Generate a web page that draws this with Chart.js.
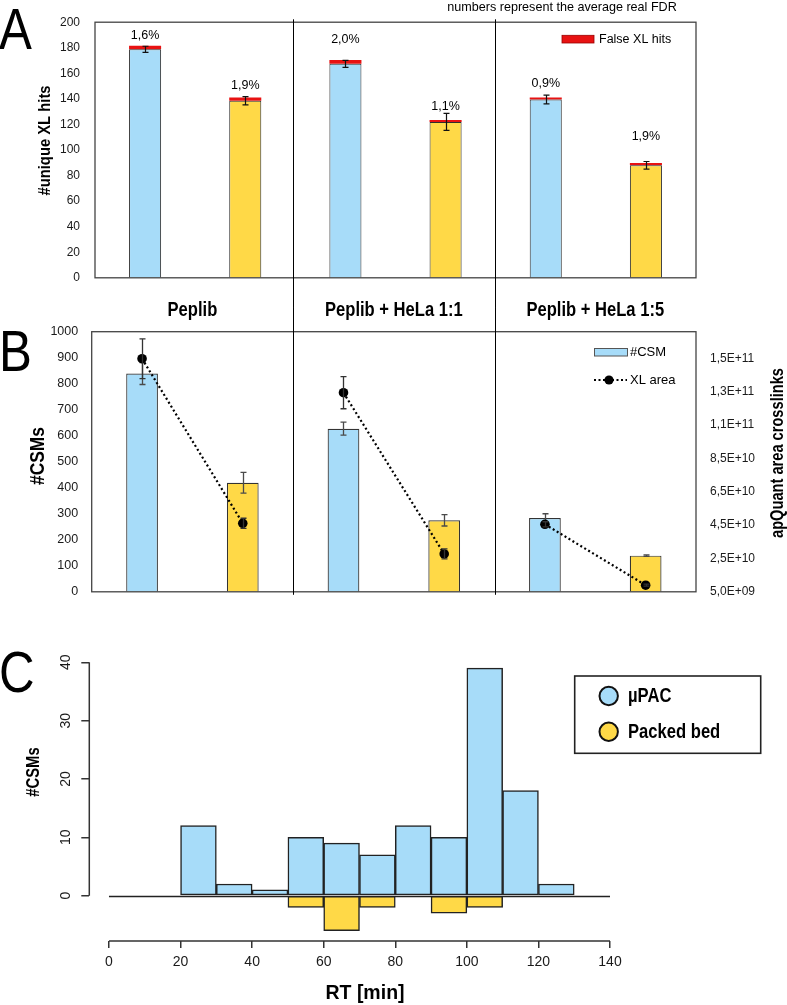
<!DOCTYPE html>
<html>
<head>
<meta charset="utf-8">
<title>XL hits, CSMs and RT distribution</title>
<script src="https://cdn.jsdelivr.net/npm/chart.js@4.4.1/dist/chart.umd.min.js"></script>
<style>
  html, body { margin: 0; padding: 0; background: #ffffff; }
  #page { position: relative; width: 787px; height: 1005px; overflow: hidden; background: #ffffff; }
  .panel { position: absolute; left: 0; width: 787px; }
  .letter { position: absolute; left: -1px; font-family: 'Liberation Sans', Arial, sans-serif; font-size: 58px; line-height: 58px; color: #000; transform: scaleX(0.85); transform-origin: 0 0; }
</style>
</head>
<body>
<div id="page">
  <div class="panel" style="top:0;height:300px"><canvas id="chartA"></canvas></div>
  <div class="panel" style="top:0;height:613px"><canvas id="chartB"></canvas></div>
  <div class="panel" style="top:615px;height:390px"><canvas id="chartC"></canvas></div>
  <div class="letter" style="top:0px">A</div>
  <div class="letter" style="top:322px">B</div>
  <div class="letter" style="top:643px">C</div>
</div>
<script>
// ---------------- data ----------------
const groupLabels = ['Peplib', 'Peplib + HeLa 1:1', 'Peplib + HeLa 1:5'];
const categories = ['Peplib µPAC', 'Peplib Packed bed',
                    'Peplib + HeLa 1:1 µPAC', 'Peplib + HeLa 1:1 Packed bed',
                    'Peplib + HeLa 1:5 µPAC', 'Peplib + HeLa 1:5 Packed bed'];

// Panel A
const trueXLHits  = [178.8, 138.5, 167.4, 122.0, 139.5, 88.0];
const falseXLHits = [2.7, 2.5, 3.0, 1.5, 1.5, 1.8];
const xlHitsError = [2.4, 3.2, 2.8, 6.7, 3.4, 3.0];
const realFDR     = ['1,6%', '1,9%', '2,0%', '1,1%', '0,9%', '1,9%'];
const hitsTicks   = [0, 20, 40, 60, 80, 100, 120, 140, 160, 180, 200];

// Panel B
const csmCounts   = [839, 419, 627, 275, 284, 139];
const csmError    = [42, 40, 25, 22, 16, 3];
const xlArea      = [1.448e11, 4.61e10, 1.244e11, 2.77e10, 4.55e10, 8.97e9];
const xlAreaError = [1.19e10, 3.0e9, 9.6e9, 3.0e9, 1.5e9, 6e8];
const csmTicks    = [0, 100, 200, 300, 400, 500, 600, 700, 800, 900, 1000];
const areaTicks      = [5e9, 2.5e10, 4.5e10, 6.5e10, 8.5e10, 1.05e11, 1.25e11, 1.45e11];
const areaTickLabels = ['5,0E+09', '2,5E+10', '4,5E+10', '6,5E+10', '8,5E+10', '1,1E+11', '1,3E+11', '1,5E+11'];

// Panel C
const rtBinStart  = [20, 30, 40, 50, 60, 70, 80, 90, 100, 110, 120];
const rtBinWidth  = 10;
const upacCSMs    = [12, 2, 1, 10, 9, 7, 12, 10, 39, 18, 2];
const packedCSMs  = [0, 0, 0, 2, 6, 2, 0, 3, 2, 0, 0];
const rtTicks     = [0, 20, 40, 60, 80, 100, 120, 140];
const histTicks   = [0, 10, 20, 30, 40];

// ---------------- style ----------------
const SANS = "'Liberation Sans', Arial, sans-serif";
const BLUE = '#A7DCF9', YELLOW = '#FFD947', RED = '#E81212', INK = '#1a1a1a';
const barColors = categories.map((_, i) => (i % 2 ? YELLOW : BLUE));

Chart.defaults.font.family = SANS;
Chart.defaults.color = INK;

function drawText(ctx, str, x, y, font, o = {}) {
  ctx.save();
  ctx.font = font;
  ctx.fillStyle = o.color || '#000';
  ctx.textAlign = o.align || 'center';
  ctx.textBaseline = o.baseline || 'middle';
  ctx.translate(x, y);
  if (o.rotate) ctx.rotate(o.rotate);
  if (o.sx) ctx.scale(o.sx, 1);
  ctx.fillText(str, 0, 0);
  ctx.restore();
}

const errorBars = {
  id: 'errorBars',
  afterDatasetDraw(chart, args) {
    const ds = chart.data.datasets[args.index];
    if (!ds.errors) return;
    const meta = args.meta;
    const yScale = chart.scales[meta.yAxisID];
    const ctx = chart.ctx;
    ctx.save();
    ctx.strokeStyle = ds.errorColor || '#000';
    ctx.lineWidth = ds.errorWidth || 1.2;
    meta.data.forEach((el, i) => {
      const v = ds.data[i], e = ds.errors[i];
      if (v == null || e == null) return;
      const x = Math.round(el.x) + 0.5;
      const yHi = yScale.getPixelForValue(v + e), yLo = yScale.getPixelForValue(v - e);
      const c = ds.errorCap || 3;
      ctx.beginPath();
      ctx.moveTo(x, yHi); ctx.lineTo(x, yLo);
      ctx.moveTo(x - c, yHi); ctx.lineTo(x + c, yHi);
      ctx.moveTo(x - c, yLo); ctx.lineTo(x + c, yLo);
      ctx.stroke();
    });
    ctx.restore();
  }
};

function drawFrame(ctx, a) {
  ctx.save();
  ctx.strokeStyle = '#444';
  ctx.lineWidth = 1.3;
  ctx.strokeRect(a.left, a.top, a.right - a.left, a.bottom - a.top);
  ctx.restore();
}

// ---------------- Panel A ----------------
const panelA = {
  id: 'panelA',
  afterDatasetsDraw(chart) {
    const ctx = chart.ctx;
    const tops = chart.getDatasetMeta(1).data;
    const lift = [10, 12.5, 20, 13, 14, 26];
    realFDR.forEach((t, i) => drawText(ctx, t, tops[i].x, tops[i].y - lift[i], `12.5px ${SANS}`));
  },
  afterDraw(chart) {
    const {ctx, chartArea: a} = chart;
    drawFrame(ctx, a);
    ctx.save();
    ctx.fillStyle = RED; ctx.fillRect(562, 35.3, 32, 7.7);
    ctx.strokeStyle = '#9a0000'; ctx.lineWidth = 0.8; ctx.strokeRect(562, 35.3, 32, 7.7);
    ctx.restore();
    drawText(ctx, chart.data.datasets[1].label, 599, 39.5, `12.5px ${SANS}`, {align: 'left'});
    drawText(ctx, 'numbers represent the average real FDR', 562, 11, `12.6px ${SANS}`, {baseline: 'alphabetic'});
    drawText(ctx, '#unique XL hits', 45, 140.5, `bold 17px ${SANS}`, {rotate: -Math.PI / 2, sx: 0.87});
  }
};

new Chart(document.getElementById('chartA'), {
  type: 'bar',
  data: {
    labels: categories,
    datasets: [
      { label: 'True XL hits', data: trueXLHits, errors: xlHitsError, errorColor: '#111', errorWidth: 1.2,
        backgroundColor: barColors, borderColor: '#2e2e2e', borderWidth: 1,
        barPercentage: 0.32, categoryPercentage: 1 },
      { label: 'False XL hits', data: falseXLHits, backgroundColor: RED, borderColor: '#b00000', borderWidth: 0,
        barPercentage: 0.32, categoryPercentage: 1 }
    ]
  },
  options: {
    responsive: true, maintainAspectRatio: false, animation: false, devicePixelRatio: 1, events: [],
    layout: { padding: { left: 0, right: 91, top: 19, bottom: 17 } },
    plugins: { legend: { display: false }, tooltip: { enabled: false } },
    scales: {
      x: { stacked: true, display: false },
      y: {
        stacked: true, min: 0, max: 200,
        afterBuildTicks: s => { s.ticks = hitsTicks.map(v => ({ value: v })); },
        afterFit: s => { s.width = 95; },
        grid: { display: false, drawTicks: false }, border: { display: false },
        ticks: { padding: 15, autoSkip: false, font: { size: 12 }, color: INK, callback: v => String(v) }
      }
    }
  },
  plugins: [errorBars, panelA]
});

// ---------------- Panel B (canvas spans from the page top so the dividers run through A) ----------------
const panelB = {
  id: 'panelB',
  afterDraw(chart) {
    const {ctx, chartArea: a, scales: {x}} = chart;
    drawFrame(ctx, a);
    ctx.save();
    ctx.strokeStyle = '#000'; ctx.lineWidth = 1;
    [1, 3].forEach(i => {
      const dx = Math.round((x.getPixelForValue(i) + x.getPixelForValue(i + 1)) / 2) + 0.5;
      ctx.beginPath(); ctx.moveTo(dx, 19.3); ctx.lineTo(dx, a.bottom + 3); ctx.stroke();
    });
    ctx.restore();
    groupLabels.forEach((g, i) => {
      const cx = (x.getPixelForValue(2 * i) + x.getPixelForValue(2 * i + 1)) / 2;
      drawText(ctx, g, cx, 315.7, `bold 19.5px ${SANS}`, {baseline: 'alphabetic', sx: 0.85});
    });
    // legend
    ctx.save();
    ctx.fillStyle = BLUE; ctx.fillRect(594, 348.3, 33, 7.7);
    ctx.strokeStyle = '#555'; ctx.lineWidth = 1; ctx.strokeRect(594.5, 348.5, 33, 7.5);
    ctx.strokeStyle = '#000'; ctx.lineWidth = 2; ctx.setLineDash([2, 2.5]);
    ctx.beginPath(); ctx.moveTo(594, 380); ctx.lineTo(627, 380); ctx.stroke();
    ctx.setLineDash([]);
    ctx.fillStyle = '#000'; ctx.beginPath(); ctx.arc(609, 380, 4.6, 0, Math.PI * 2); ctx.fill();
    ctx.restore();
    drawText(ctx, chart.data.datasets[0].label, 630, 352.5, `13px ${SANS}`, {align: 'left'});
    drawText(ctx, chart.data.datasets[1].label, 630, 380.5, `13px ${SANS}`, {align: 'left'});
    drawText(ctx, '#CSMs', 38, 456, `bold 20px ${SANS}`, {rotate: -Math.PI / 2, sx: 0.87});
    drawText(ctx, 'apQuant area crosslinks', 778, 453, `bold 17.5px ${SANS}`, {rotate: -Math.PI / 2, sx: 0.836});
  }
};

new Chart(document.getElementById('chartB'), {
  type: 'bar',
  data: {
    labels: categories,
    datasets: [
      { label: '#CSM', data: csmCounts, errors: csmError, errorColor: '#4a4a4a', errorWidth: 1.3,
        backgroundColor: barColors, borderColor: '#333', borderWidth: 1.2,
        barPercentage: 0.315, categoryPercentage: 1, yAxisID: 'y', order: 1 },
      { type: 'line', label: 'XL area', data: xlArea, errors: xlAreaError, errorColor: '#333', errorWidth: 1.3,
        yAxisID: 'y2', order: 0, borderColor: '#000', borderWidth: 2.2, borderDash: [2, 2.6],
        pointRadius: 4.8, pointBackgroundColor: '#000', pointBorderWidth: 0, fill: false, tension: 0,
        segment: { borderColor: c => (c.p0DataIndex % 2 === 1 ? 'rgba(0,0,0,0)' : '#000') } }
    ]
  },
  options: {
    responsive: true, maintainAspectRatio: false, animation: false, devicePixelRatio: 1, events: [],
    layout: { padding: { left: 0, right: 0, top: 331.7, bottom: 18 } },
    plugins: { legend: { display: false }, tooltip: { enabled: false } },
    scales: {
      x: { display: false },
      y: {
        position: 'left', min: 0, max: 1000,
        afterBuildTicks: s => { s.ticks = csmTicks.map(v => ({ value: v })); },
        afterFit: s => { s.width = 91.7; },
        grid: { display: false, drawTicks: false }, border: { display: false },
        ticks: { padding: 13.5, autoSkip: false, font: { size: 12.5 }, color: INK, callback: v => String(v) }
      },
      y2: {
        position: 'right', min: 5e9, max: 1.61e11,
        afterBuildTicks: s => { s.ticks = areaTicks.map(v => ({ value: v })); },
        afterFit: s => { s.width = 91; },
        grid: { display: false, drawTicks: false }, border: { display: false },
        ticks: { padding: 14, autoSkip: false, font: { size: 12 }, color: INK,
                 callback: (v, i) => areaTickLabels[i] }
      }
    }
  },
  plugins: [errorBars, panelB]
});

// ---------------- Panel C ----------------
const panelC = {
  id: 'panelC',
  beforeDatasetsDraw(chart) {
    const {ctx, scales: {x, y}} = chart;
    const y0 = Math.round(y.getPixelForValue(0)) + 0.5;
    ctx.save();
    ctx.strokeStyle = '#222'; ctx.lineWidth = 1.5;
    ctx.beginPath();
    ctx.moveTo(x.getPixelForValue(rtTicks[0]), y0);
    ctx.lineTo(x.getPixelForValue(rtTicks[rtTicks.length - 1]), y0);
    ctx.stroke();
    ctx.restore();
  },
  afterDraw(chart) {
    const {ctx, chartArea: a, scales: {x, y}} = chart;
    ctx.save();
    ctx.strokeStyle = '#333'; ctx.lineWidth = 1.5;
    ctx.beginPath();
    ctx.moveTo(x.getPixelForValue(rtTicks[0]), a.bottom);
    ctx.lineTo(x.getPixelForValue(rtTicks[rtTicks.length - 1]), a.bottom);
    ctx.moveTo(a.left, y.getPixelForValue(histTicks[0]));
    ctx.lineTo(a.left, y.getPixelForValue(histTicks[histTicks.length - 1]));
    ctx.stroke();
    // legend
    ctx.strokeStyle = '#222'; ctx.lineWidth = 1.6;
    ctx.strokeRect(574.7, 61, 186, 77.3);
    const rows = [81, 116.7];
    chart.data.datasets.forEach((ds, i) => {
      ctx.beginPath(); ctx.arc(608.7, rows[i], 9.2, 0, Math.PI * 2);
      ctx.fillStyle = ds.backgroundColor; ctx.fill();
      ctx.lineWidth = 2; ctx.strokeStyle = '#111'; ctx.stroke();
      drawText(ctx, ds.label, 628, rows[i] + 0.5, `bold 20px ${SANS}`, {align: 'left', sx: 0.83});
    });
    ctx.restore();
    drawText(ctx, '#CSMs', 34, 157, `bold 18.5px ${SANS}`, {rotate: -Math.PI / 2, sx: 0.8});
    drawText(ctx, 'RT [min]', 365, 384.3, `bold 19.5px ${SANS}`, {baseline: 'alphabetic'});
  }
};

new Chart(document.getElementById('chartC'), {
  type: 'bar',
  data: {
    datasets: [
      { label: 'µPAC',
        data: rtBinStart.map((s, i) => ({ x: s + rtBinWidth / 2, y: upacCSMs[i] ? upacCSMs[i] : null })),
        backgroundColor: BLUE, borderColor: '#222', borderWidth: 1.5, borderSkipped: false,
        grouped: false, barPercentage: 1, categoryPercentage: 1 },
      { label: 'Packed bed',
        data: rtBinStart.map((s, i) => ({ x: s + rtBinWidth / 2, y: packedCSMs[i] ? -packedCSMs[i] : null })),
        backgroundColor: YELLOW, borderColor: '#222', borderWidth: 1.5, borderSkipped: false,
        grouped: false, barPercentage: 1, categoryPercentage: 1 }
    ]
  },
  options: {
    responsive: true, maintainAspectRatio: false, animation: false, devicePixelRatio: 1, events: [],
    layout: { padding: { left: 0, right: 177, top: 47.3, bottom: 0 } },
    plugins: { legend: { display: false }, tooltip: { enabled: false } },
    scales: {
      x: {
        type: 'linear', min: -5.5, max: 140, offset: false,
        afterBuildTicks: s => { s.ticks = rtTicks.map(v => ({ value: v })); },
        afterFit: s => { s.height = 64; },
        grid: { offset: false, drawOnChartArea: false, drawTicks: true, tickLength: 7, color: '#333', lineWidth: 1.5 },
        border: { display: false },
        ticks: { padding: 6, autoSkip: false, maxRotation: 0, font: { size: 14 }, color: INK, callback: v => String(v) }
      },
      y: {
        min: -7.77, max: 40,
        afterBuildTicks: s => { s.ticks = histTicks.map(v => ({ value: v })); },
        afterFit: s => { s.width = 89.3; },
        grid: { offset: false, drawOnChartArea: false, drawTicks: true, tickLength: 8, color: '#333', lineWidth: 1.5 },
        border: { display: false },
        ticks: { padding: 7.5, autoSkip: false, minRotation: 90, maxRotation: 90, crossAlign: 'center',
                 font: { size: 14 }, color: INK, callback: v => String(v) }
      }
    }
  },
  plugins: [panelC]
});
</script>
</body>
</html>
